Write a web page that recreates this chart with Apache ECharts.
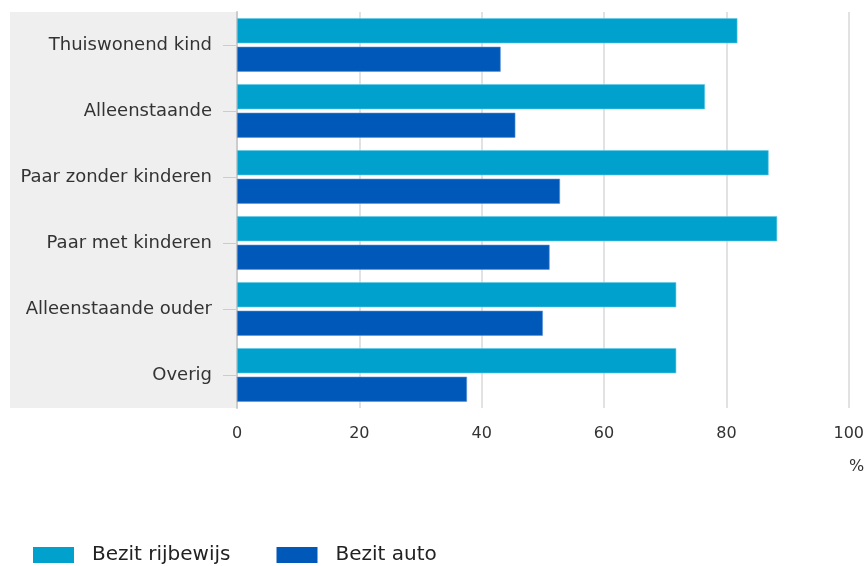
<!DOCTYPE html>
<html><head><meta charset="utf-8">
<script src="https://cdn.jsdelivr.net/npm/echarts@6/dist/echarts.min.js"></script>
<style>html,body{margin:0;padding:0;background:#fff}#c{width:867px;height:566px}</style>
</head><body><div id="c"></div>
<script>
const categories = ["Thuiswonend kind","Alleenstaande","Paar zonder kinderen","Paar met kinderen","Alleenstaande ouder","Overig"];
const rijbewijs = [81.8, 76.5, 86.9, 88.3, 71.8, 71.8];
const auto = [43.1, 45.5, 52.8, 51.1, 50.0, 37.6];
const seriesNames = ["Bezit rijbewijs","Bezit auto"];
const xTicks = [0, 20, 40, 60, 80, 100];
const unitLabel = "%";

const FONT = "DejaVu Sans";
const chart = echarts.init(document.getElementById('c'), null, {renderer:'canvas'});
chart.setOption({
  animation:false,
  textStyle:{fontFamily:FONT},
  grid:{left:237, right:16, top:12, bottom:158, containLabel:false},
  graphic:[
    {type:'rect', shape:{x:10, y:12, width:227, height:396}, style:{fill:'#efefef'}, z:-10, silent:true},
    {type:'text', x:849, y:459, style:{text:unitLabel, fill:'#333', font:'16px "DejaVu Sans"'}}
  ],
  legend:{
    data:seriesNames, left:28, top:540, itemWidth:41, itemHeight:16, itemGap:46,
    icon:'rect', itemStyle:{borderWidth:0},
    textStyle:{fontSize:20, color:'#222', padding:[0,0,0,13], fontFamily:FONT}
  },
  xAxis:{
    type:'value', min:xTicks[0], max:xTicks[xTicks.length-1], interval:20,
    axisLine:{show:false}, axisTick:{show:false},
    axisLabel:{fontSize:16, color:'#333', margin:18},
    splitLine:{show:true, lineStyle:{color:'#e2e2e2', width:2}}
  },
  yAxis:{
    type:'category', data:categories, inverse:true,
    axisLine:{show:true, lineStyle:{color:'#cccccc', width:2}},
    axisTick:{show:true, alignWithLabel:true, length:14, lineStyle:{color:'#cccccc'}},
    axisLabel:{fontSize:18, color:'#333', margin:25}
  },
  series:[
    {name:seriesNames[0], type:'bar', data:rijbewijs, barGap:'14%', barCategoryGap:'19%',
     itemStyle:{color:'#00a1cd', borderColor:'#5fc8e6', borderWidth:0.6}},
    {name:seriesNames[1], type:'bar', data:auto,
     itemStyle:{color:'#0058b8', borderColor:'#5a92d6', borderWidth:0.6}}
  ]
});
</script></body></html>
